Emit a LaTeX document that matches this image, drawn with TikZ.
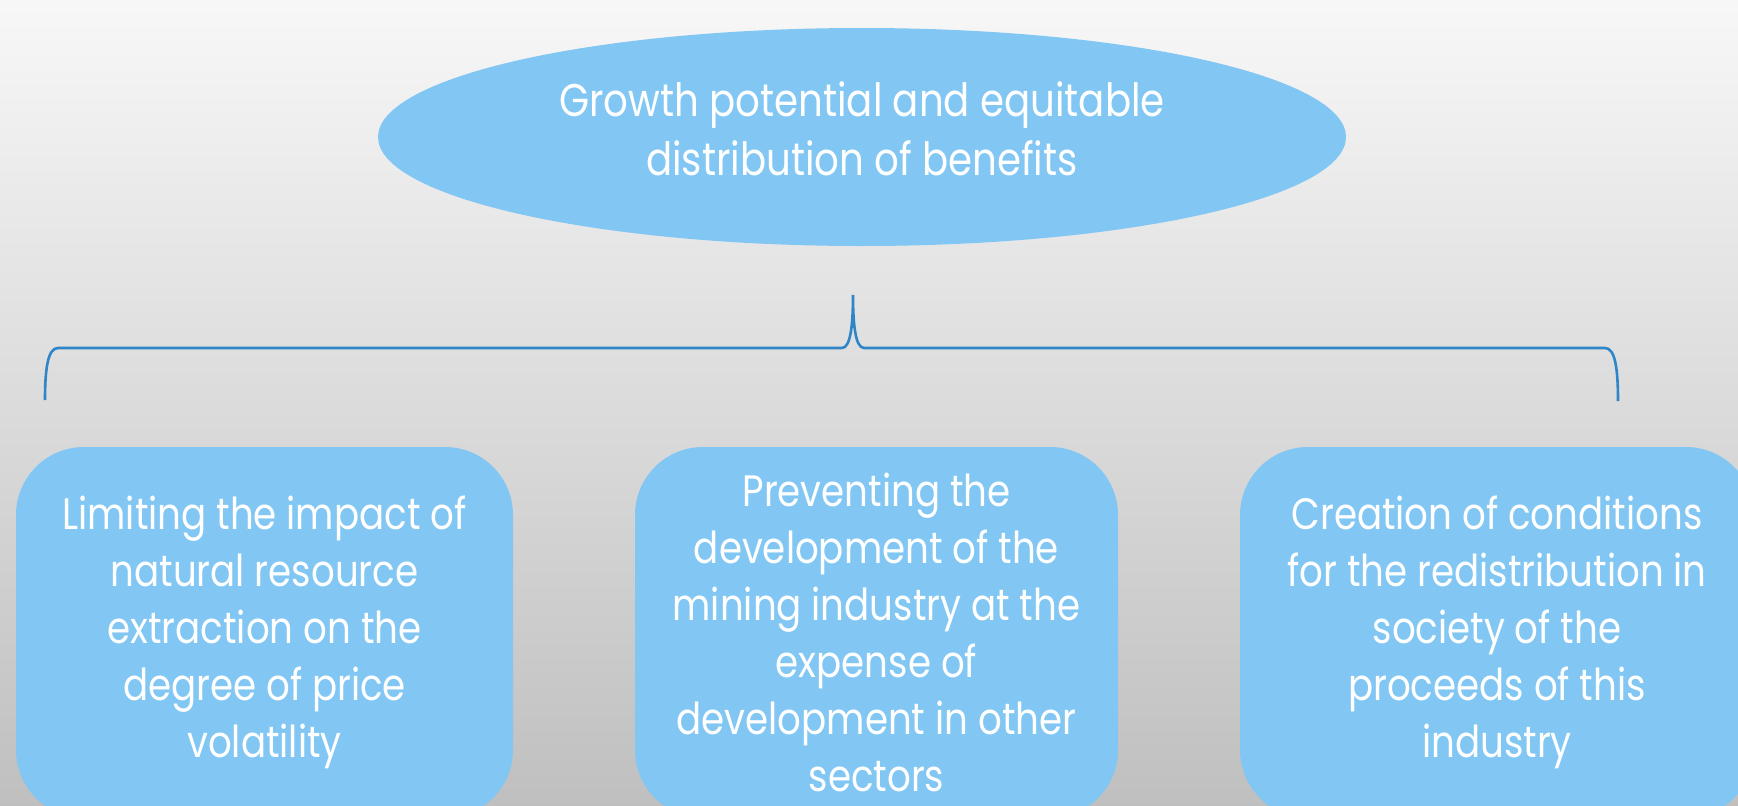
\documentclass[tikz,border=0pt]{standalone}
\usepackage{fontspec}
\setmainfont{Poppins}[FakeStretch=0.845]
\usetikzlibrary{shapes.geometric}
\definecolor{boxblue}{HTML}{82C7F3}
\definecolor{braceblue}{HTML}{2E86C8}
\tikzset{
  bluebox/.style={fill=boxblue, draw=none, rounded corners=68pt, text=white, align=center,
    font=\fontsize{44}{57}\selectfont, inner sep=0pt},
  topell/.style={ellipse, fill=boxblue, draw=none, inner sep=0pt},
  toptext/.style={text=white, align=center, font=\fontsize{45.8}{59}\selectfont, inner sep=0pt},
  bracestyle/.style={draw=braceblue, line width=2.6pt}
}
\begin{document}
\begin{tikzpicture}[x=1pt,y=-1pt]
\useasboundingbox (0,0) rectangle (1738,806);
\clip (0,0) rectangle (1738,806);
\shade[top color=white!97!black, bottom color=black!25] (0,0) rectangle (1738,806);

\node[topell, minimum width=968pt, minimum height=218pt] (top) at (862,137) {};
\node[toptext] (toplabel) at (862,129) {Growth potential and equitable\\distribution of benefits};

\node[bluebox, minimum width=497pt, minimum height=371pt] (left) at (264.5,632.5)
  {\raisebox{0pt}{}Limiting the impact of\\natural resource\\extraction on the\\degree of price\\volatility};
\node[bluebox, minimum width=483pt, minimum height=371pt] (mid) at (876.5,632.5)
  {Preventing the\\development of the\\mining industry at the\\expense of\\development in other\\sectors};
\node[bluebox, minimum width=514pt, minimum height=371pt] (right) at (1497,632.5)
  {Creation of conditions\\for the redistribution in\\society of the\\proceeds of this\\industry};

\coordinate (bl) at (45,400);
\coordinate (br) at (1618,401);
\coordinate (tip) at (853,295);
\draw[bracestyle] (bl) .. controls (45,368) and (48,348) .. (58,348) -- (842,348)
  .. controls (851,348) and (853,322) .. (tip)
  .. controls (853,322) and (855,348) .. (864,348) -- (1605,348)
  .. controls (1615,348) and (1618,368) .. (br);
\end{tikzpicture}
\end{document}
